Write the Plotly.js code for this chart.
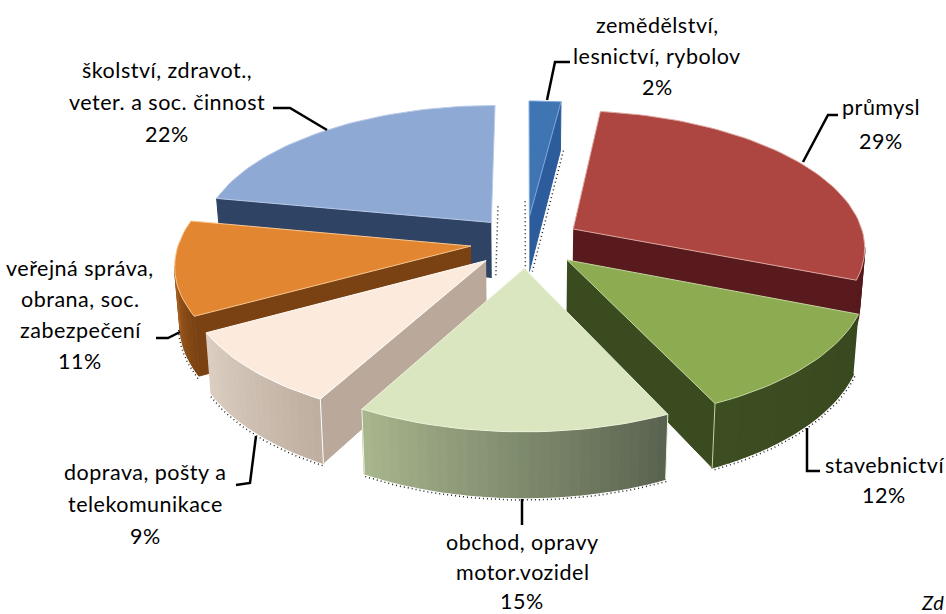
<!DOCTYPE html>
<html><head><meta charset="utf-8">
<script src="https://cdn.plot.ly/plotly-3.0.1.min.js"></script>
<style>html,body{margin:0;padding:0;background:#fff}#c{width:946px;height:614px}.annotation-text{letter-spacing:.5px}</style>
</head><body><div id="c"></div>
<script>
const categories = ["zemědělství, lesnictví, rybolov","průmysl","stavebnictví","obchod, opravy motor.vozidel","doprava, pošty a telekomunikace","veřejná správa, obrana, soc. zabezpečení","školství, zdravot., veter. a soc. činnost"];
const values = [2,29,12,15,9,11,22];
const topColors = ["#3f75b3","#ad4640","#8dab50","#d9e6bf","#fcebdc","#e38632","#8fa9d5"];
const edgeColors = ["#7fa8dc","#e0a8a0","#c4d6a0","#eef4dc","#ffffff","#f8c890","#b8cae8"];
const cutColors = ["#2d5c9c","#581a1d","#3a4b20","#6b7560","#baa99b","#7a4212","#2f4364"];
const wallStart = ["#2d5c9c","#581a1d","#39491f","#59624f","#beae9f","#7a4212","#2f4364"];
const wallEnd = ["#2d5c9c","#581a1d","#3d4e22","#a9b78e","#dccfc2","#cf7a30","#2f4364"];
const labelLines = [["zemědělství,","lesnictví, rybolov","2%"],["průmysl","29%"],["stavebnictví","12%"],["obchod, opravy","motor.vozidel","15%"],["doprava, pošty a","telekomunikace","9%"],["veřejná správa,","obrana, soc.","zabezpečení","11%"],["školství, zdravot.,","veter. a soc. činnost","22%"]];
const labelX = [657,881,884,522,145,80,167];
const labelY = [25,107,465,542,472,268,70];
const labelStep = [31,34,30,29.5,32,31,32];
const leaderX = [[547,555,570],[803,828,838],[807,807,820],[522,522],[256,250,236],[180,168,156],[327,290,273]];
const leaderY = [[100,62,62],[162,115,115],[428,471,471],[499,525],[436,483,485],[332,338,338],[130,108,108]];

const cx=526, cy=242, rx=292, ry=136, k=0.124, pull=0.19, depth=56;
const paintOrder=[0,6,1,5,2,4,3];
function proj(u,v,low){
  const d=1+k*v;
  let x=cx+rx*u/d, y=cy-ry*v/d;
  if(low){ x=cx+(x-cx)*0.985; y+=depth/d; }
  return [x,y];
}
function mix(a,b,t){
  const p=s=>[1,3,5].map(i=>parseInt(s.substr(i,2),16));
  const A=p(a),B=p(b);
  return "rgb("+A.map((c,i)=>Math.round(c+(B[i]-c)*t)).join(",")+")";
}
function poly(pts,fill,line,w){
  return {type:"scatter",mode:"lines",x:pts.map(p=>p[0]),y:pts.map(p=>p[1]),fill:"toself",fillcolor:fill,
    line:{color:line||fill,width:w===undefined?1.5:w},hoverinfo:"skip",showlegend:false};
}
function stroke(pts,color,w,dash){
  return {type:"scatter",mode:"lines",x:pts.map(p=>p[0]),y:pts.map(p=>p[1]),line:{color:color,width:w,dash:dash||"solid"},hoverinfo:"skip",showlegend:false};
}
const total=values.reduce((a,b)=>a+b,0);
const slices=[];let acc=0;
values.forEach(val=>{const a0=acc/total*2*Math.PI;acc+=val;slices.push([a0,acc/total*2*Math.PI]);});
const traces=[];
paintOrder.forEach(i=>{
  const [a0,a1]=slices[i], mid=(a0+a1)/2, pu=pull*Math.sin(mid), pv=pull*Math.cos(mid);
  const P=(a,r)=>[pu+r*Math.sin(a),pv+r*Math.cos(a)];
  const n=Math.max(6,Math.round((a1-a0)/0.03));
  const angs=[];for(let j=0;j<=n;j++)angs.push(a0+(a1-a0)*j/n);
  const apex=[pu,pv];
  const cut=(a)=>{const c=P(a,1);return poly([proj(apex[0],apex[1]),proj(c[0],c[1]),proj(c[0],c[1],true),proj(apex[0],apex[1],true)],cutColors[i],cutColors[i],1);};
  if(i===0||i===6){
    const side=(a,from,dx)=>{const c=P(a,from),p1=proj(c[0],c[1],true),p2=proj(apex[0],apex[1],true);
      traces.push(stroke([[p1[0]+dx,p1[1]],[p2[0]+dx,p2[1]]],"#222",1.5,"1px 3px"));};
    if(i===0){side(a0,0.55,-4);side(a1,1,3);}
    else side(a1,0.55,4);
  }
  if(Math.sin(a0)<-1e-6) traces.push(cut(a0));
  if(Math.sin(a1)>1e-6) traces.push(cut(a1));
  const bottom=[];
  for(let j=0;j<n;j++){
    const s=P(angs[j],1),e=P(angs[j+1],1),ps=proj(s[0],s[1]),pe=proj(e[0],e[1]);
    if(pe[0]<ps[0]){
      const col=mix(wallStart[i],wallEnd[i],(j+.5)/n);
      traces.push(poly([ps,pe,proj(e[0],e[1],true),proj(s[0],s[1],true)],col));
      bottom.push(proj(s[0],s[1],true));
      if(j===n-1)bottom.push(proj(e[0],e[1],true));
    }
  }
  if(bottom.length>1 && i>=2 && i<=5){
    const off=bottom.map(p=>[cx+(p[0]-cx)*1.004,p[1]+2.5]);
    traces.push(stroke(off,"#222",1.5,"1px 3px"));
  }
  if(i>=2&&i<=4){
    [a0,a1].forEach(a=>{
      if((i===2&&a===a1)||(i===4&&a===a0)||i===3){
        const c=P(a,1);traces.push(stroke([proj(c[0],c[1]),proj(c[0],c[1],true)],edgeColors[i],1));
      }
    });
  }
  const top=[proj(apex[0],apex[1])].concat(angs.map(a=>{const c=P(a,1);return proj(c[0],c[1]);}));
  top.push(top[0]);
  traces.push(poly(top,topColors[i],edgeColors[i],1));
});
leaderX.forEach((xs,i)=>traces.push({type:"scatter",mode:"lines",x:xs,y:leaderY[i],line:{color:"#000",width:2.5},hoverinfo:"skip",showlegend:false}));
const annotations=[];
labelLines.forEach((ls,i)=>ls.forEach((t,j)=>annotations.push({text:t,x:labelX[i],y:labelY[i]+j*labelStep[i],xref:"x",yref:"y",showarrow:false,xanchor:"center",yanchor:"middle",font:{family:"Lato, 'Open Sans', sans-serif",size:21.5,color:"#000"}})));
annotations.push({text:"<i>Zd</i>",x:919,y:602,xref:"x",yref:"y",showarrow:false,xanchor:"left",yanchor:"middle",font:{family:"Lato, sans-serif",size:20,color:"#000"}});
Plotly.newPlot("c",traces,{width:946,height:614,margin:{l:0,r:0,t:0,b:0},paper_bgcolor:"#fff",plot_bgcolor:"#fff",showlegend:false,
  xaxis:{range:[0,946],visible:false,fixedrange:true},yaxis:{range:[614,0],visible:false,fixedrange:true},annotations:annotations},{displayModeBar:false,staticPlot:true});
</script></body></html>
